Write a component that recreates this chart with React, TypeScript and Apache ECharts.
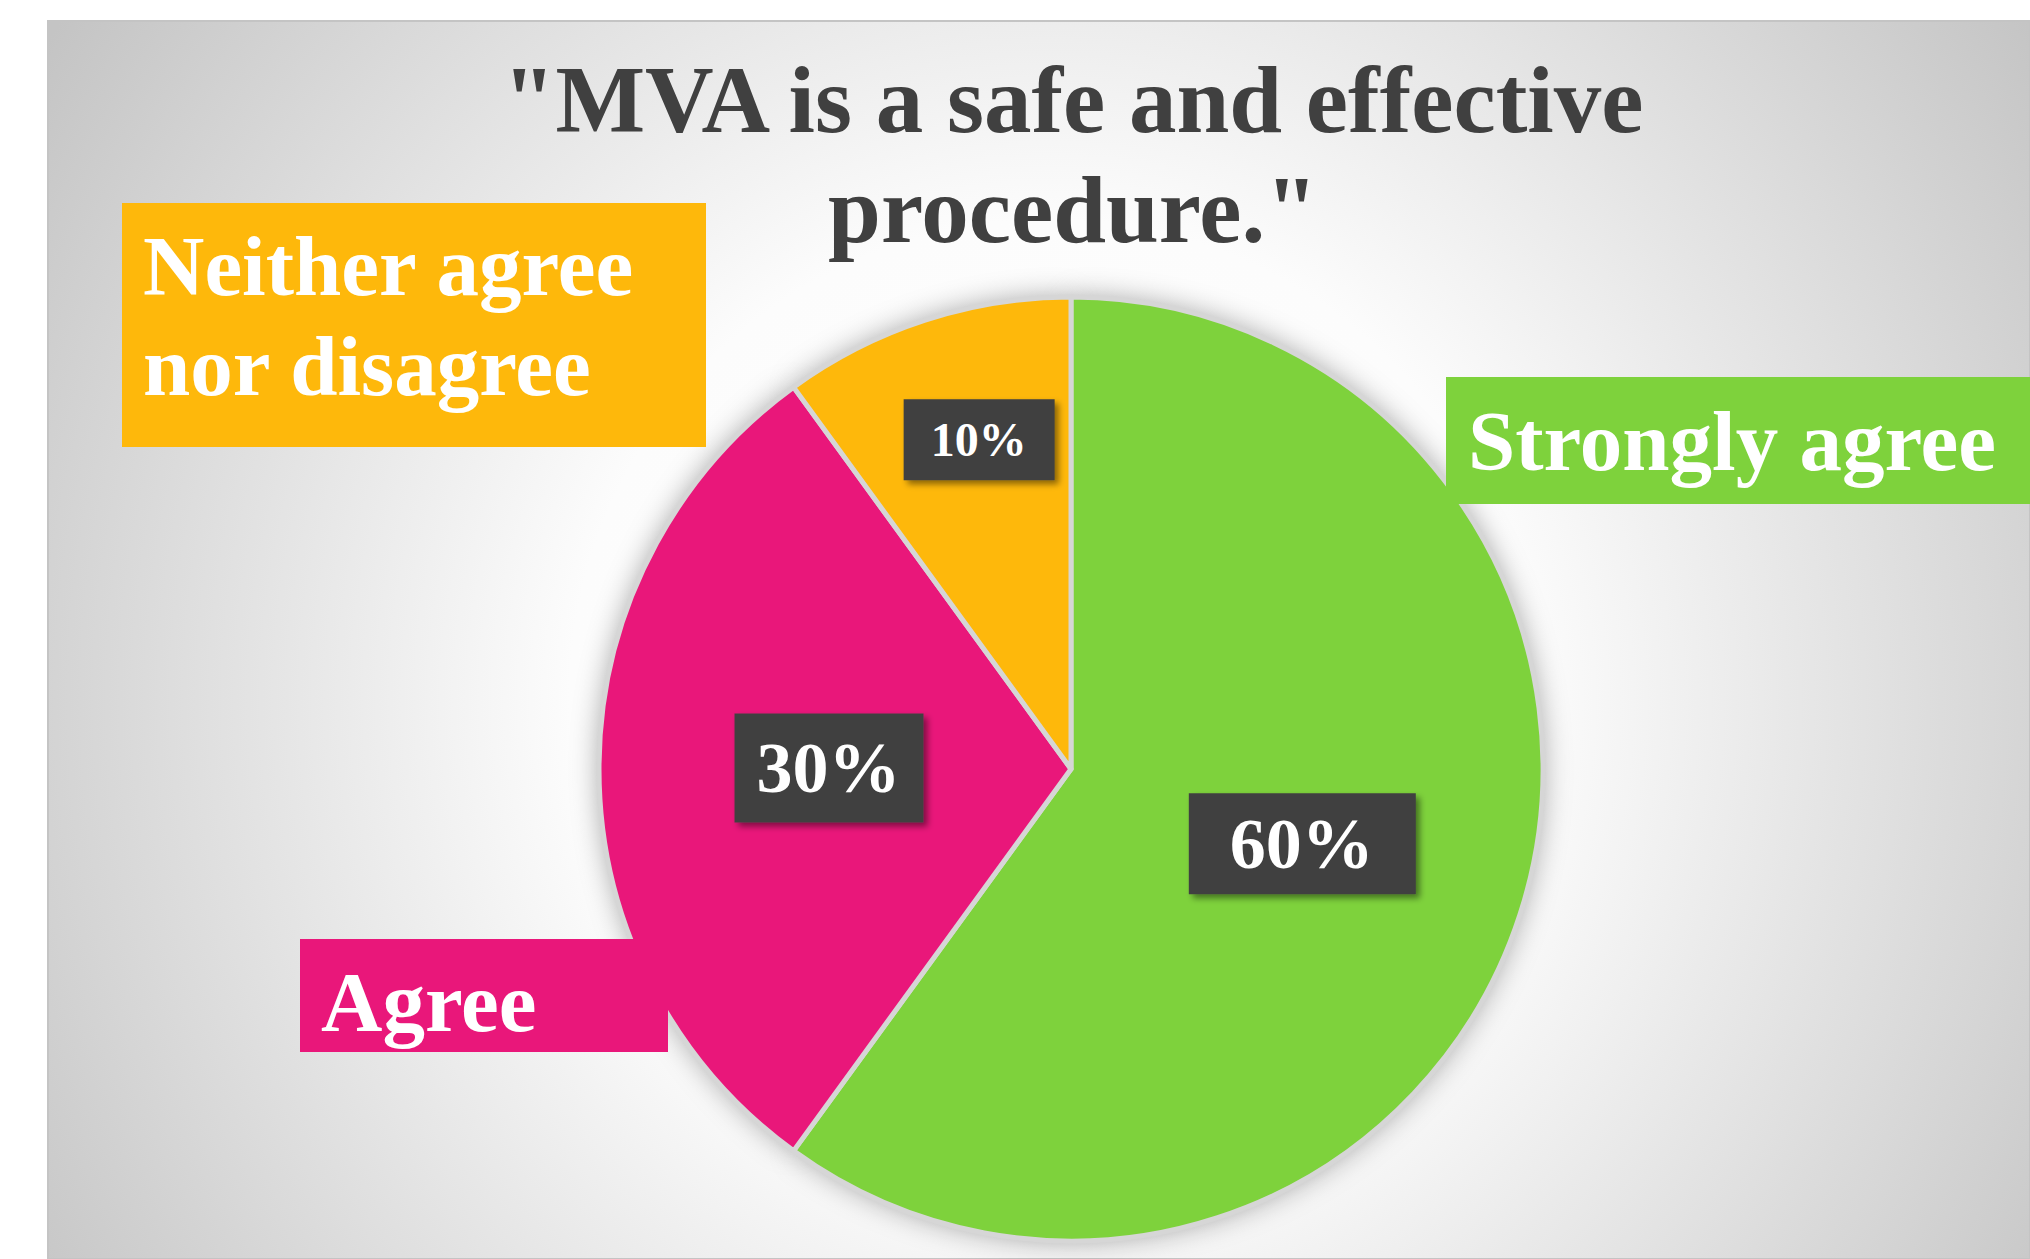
import React, { useEffect, useRef } from 'react';
import * as echarts from 'echarts';

// ---- data ----
const categories = ['Strongly agree', 'Agree', 'Neither agree nor disagree'];
const values = [60, 30, 10];
const titleLines = ['"MVA is a safe and effective', 'procedure."'];

// ---- styles / layout ----
const sliceColors = ['#7ED23C', '#E9177A', '#FEB80B'];
const W = 2030;
const H = 1259;
const CENTER = [1071, 769];
const RADIUS = 472;
const FONT = '"Liberation Serif", "Times New Roman", Times, serif';

const pctStyles = [
  { fontSize: 72, lineHeight: 72, padding: [15, 42, 14, 41] },
  { fontSize: 72, lineHeight: 72, padding: [19, 23, 18, 22] },
  { fontSize: 48, lineHeight: 48, padding: [17, 28, 16, 27] },
];
const pctOffsets = [
  [4, 1],
  [-3, -1],
  [-18, -102],
];
const catBoxes = [
  { x: 1446, y: 377, width: 600, padding: [14, 0, 13, 22] },
  { x: 300, y: 939, width: 347, padding: [13, 0, 0, 21] },
  { x: 122, y: 203, width: 563, padding: [13, 0, 31, 21] },
];

export default function App() {
  const ref = useRef<HTMLDivElement>(null);

  useEffect(() => {
    document.body.style.margin = '0';
    if (!ref.current) return;
    const chart = echarts.init(ref.current, null, { renderer: 'svg' });

    const baseData = categories.map((name, i) => ({ name, value: values[i] }));

    const option: any = {
      animation: false,
      color: sliceColors,
      graphic: {
        elements: [
          {
            type: 'rect',
            z: -10,
            silent: true,
            shape: { x: 48, y: 21, width: W - 48, height: H - 21 },
            style: {
              fill: new echarts.graphic.RadialGradient(
                1050,
                700,
                1200,
                [
                  { offset: 0, color: '#ffffff' },
                  { offset: 0.4, color: '#fcfcfc' },
                  { offset: 1, color: '#c4c4c4' },
                ],
                true
              ),
              stroke: '#c4c4c4',
              lineWidth: 2,
            },
          },
          {
            type: 'text',
            z: 10,
            silent: true,
            x: 1073,
            y: 45,
            style: {
              text: titleLines.join('\n'),
              fontSize: 95,
              fontWeight: 'bold',
              fontFamily: FONT,
              lineHeight: 110,
              fill: '#404040',
              align: 'center',
              verticalAlign: 'top',
            },
          },
        ],
      },
      series: [
        {
          type: 'pie',
          z: 1,
          silent: true,
          center: CENTER,
          radius: RADIUS,
          startAngle: 90,
          clockwise: true,
          emphasis: { disabled: true },
          itemStyle: {
            color: '#d6d6d6',
            shadowBlur: 28,
            shadowColor: 'rgba(0,0,0,0.35)',
          },
          label: { show: false },
          labelLine: { show: false },
          data: baseData,
        },
        {
          type: 'pie',
          z: 2,
          silent: true,
          center: CENTER,
          radius: RADIUS,
          startAngle: 90,
          clockwise: true,
          emphasis: { disabled: true },
          itemStyle: {
            borderColor: '#d6d6d6',
            borderWidth: 5,
          },
          label: {
            show: true,
            position: 'inside',
            formatter: (p: any) => Math.round(p.percent) + '%',
            color: '#ffffff',
            fontFamily: FONT,
            fontWeight: 'bold',
            backgroundColor: '#404040',
            shadowBlur: 6,
            shadowOffsetX: 4,
            shadowOffsetY: 4,
            shadowColor: 'rgba(0,0,0,0.45)',
          },
          labelLine: { show: false },
          labelLayout: (params: any) => {
            const o = pctOffsets[params.dataIndex];
            return { dx: o[0], dy: o[1] };
          },
          data: baseData.map((d, i) => ({ ...d, label: pctStyles[i] })),
        },
        {
          type: 'pie',
          z: 3,
          silent: true,
          center: CENTER,
          radius: RADIUS,
          startAngle: 90,
          clockwise: true,
          emphasis: { disabled: true },
          itemStyle: { color: 'rgba(0,0,0,0)' },
          label: {
            show: true,
            position: 'inside',
            formatter: '{b}',
            color: '#ffffff',
            fontFamily: FONT,
            fontWeight: 'bold',
            fontSize: 85,
            lineHeight: 100,
            overflow: 'break',
          },
          labelLine: { show: false },
          labelLayout: (params: any) => {
            const b = catBoxes[params.dataIndex];
            return { x: b.x, y: b.y, align: 'left', verticalAlign: 'top' };
          },
          data: baseData.map((d, i) => ({
            ...d,
            label: {
              backgroundColor: sliceColors[i],
              width: catBoxes[i].width,
              padding: catBoxes[i].padding,
            },
          })),
        },
      ],
    };

    chart.setOption(option);
    return () => chart.dispose();
  }, []);

  return <div ref={ref} style={{ width: W, height: H }} />;
}
